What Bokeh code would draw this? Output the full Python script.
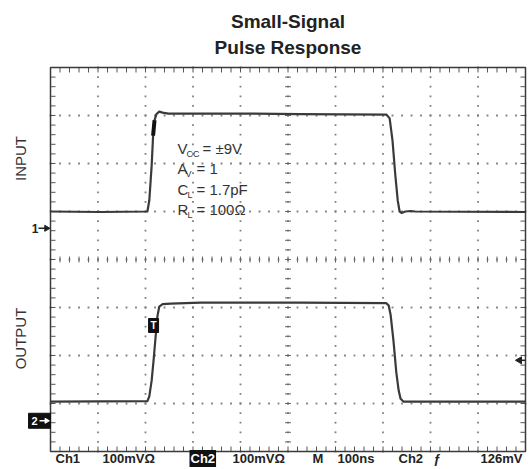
import numpy as np
from bokeh.plotting import figure
from bokeh.models import Label, Range1d
from bokeh.embed import file_html
from bokeh.resources import INLINE

# ---------------- scope settings ----------------
ns_per_div = 100          # M 100ns
mv_per_div = 100          # 100mV / div
ch1_ground_div = 0.65     # "1" ground marker (divisions from centre)
ch2_ground_div = -3.36    # "2" ground marker
trigger_mv = 126          # Ch2 trigger level
trigger_ns = 217          # trigger position "T"

# ---------------- CH1 : input ----------------
input_ns = [0, 105, 204, 208, 213, 216, 219, 223, 229, 236, 248, 420, 526, 707,
            714, 720, 726, 731, 735, 739, 747, 758, 768, 1000]
input_mv = [35, 34, 35, 58, 131, 193, 225, 238, 243, 241, 239, 239, 238, 237,
            229, 183, 110, 58, 35, 32, 35, 36, 35, 34]

# ---------------- CH2 : output ----------------
output_ns = [0, 204, 208, 213, 217, 221, 225, 229, 236, 253, 316, 526, 707, 712,
             716, 722, 728, 733, 737, 743, 758, 1000]
output_mv = [40, 41, 51, 84, 126, 172, 217, 238, 243, 244, 246, 246, 245, 240,
             221, 167, 101, 63, 46, 40, 40, 40]

title_lines = ["Small-Signal", "Pulse Response"]
cond_main = ["V", "A", "C", "R"]
cond_sub = ["CC", "V", "L", "L"]
cond_rest = ["= \u00b19V", "= 1", "= 1.7pF", "= 100\u03a9"]
status_items = ["Ch1", "100mV\u03a9", "Ch2", "100mV\u03a9", "M", "100ns", "Ch2", "\u0192", "126mV"]

# ---------------- geometry (screen layout of the graticule) ----------------
W, H = 530, 469
X_DIV, Y_DIV = 10, 8
G_LEFT, G_TOP = 50, 67          # graticule corner in page pixels
PX_X, PX_Y = 47.5, 48.0         # pixels per division


def ix(xi):  # page pixel -> ns
    return (xi - G_LEFT) / PX_X * ns_per_div


def iy(yi):  # page pixel -> divisions
    return Y_DIV / 2 - (yi - G_TOP) / PX_Y


def px_ns(d):
    return d / PX_X * ns_per_div


def px_dv(d):
    return d / PX_Y


p = figure(width=W, height=H, title=None,
           x_range=Range1d(ix(0), ix(W)), y_range=Range1d(iy(H), iy(0)),
           output_backend="svg", toolbar_location=None,
           x_axis_location=None, y_axis_location=None,
           min_border=0, min_border_left=0, min_border_right=0,
           min_border_top=0, min_border_bottom=0)
p.grid.visible = False
p.outline_line_color = None
p.background_fill_color = "white"
p.border_fill_color = "white"

top, bot = Y_DIV / 2, -Y_DIV / 2
right = X_DIV * ns_per_div
xc = right / 2

# ---------------- graticule ----------------
minor_ns = np.arange(0, right + 1, ns_per_div / 5)
minor_div = np.round(np.arange(bot, top + 0.001, 0.2), 6)
vlines = np.arange(ns_per_div, right, ns_per_div)
hlines = np.arange(bot + 1, top, 1)

dx = np.concatenate([np.repeat(vlines, len(minor_div)), np.tile(minor_ns, len(hlines))])
dy = np.concatenate([np.tile(minor_div, len(vlines)), np.repeat(hlines, len(minor_ns))])
p.scatter(dx, dy, marker="square", size=1.8, fill_color="#7f7f7f", line_color=None)

p.segment(x0=minor_ns, y0=-px_dv(3), x1=minor_ns, y1=px_dv(3), line_color="#666", line_width=1)
p.segment(x0=xc - px_ns(3), y0=minor_div, x1=xc + px_ns(3), y1=minor_div, line_color="#666", line_width=1)

p.segment(x0=minor_ns, y0=bot, x1=minor_ns, y1=bot + px_dv(5), line_color="#555", line_width=1)
p.segment(x0=minor_ns, y0=top, x1=minor_ns, y1=top - px_dv(5), line_color="#555", line_width=1)
p.segment(x0=0, y0=minor_div, x1=px_ns(5), y1=minor_div, line_color="#555", line_width=1)
p.segment(x0=right, y0=minor_div, x1=right - px_ns(5), y1=minor_div, line_color="#555", line_width=1)
p.quad(left=0, right=right, bottom=bot, top=top, fill_color=None, line_color="#3a3a3a", line_width=1.5)

# ---------------- traces ----------------
in_y = ch1_ground_div + np.array(input_mv) / mv_per_div
out_y = ch2_ground_div + np.array(output_mv) / mv_per_div
p.line(input_ns, in_y, line_color="#3a3a3a", line_width=2.2, line_join="round")
p.line(output_ns, out_y, line_color="#3a3a3a", line_width=2.2, line_join="round")
p.line(input_ns[5:7], in_y[5:7], line_color="#111", line_width=4)

FONT = "Liberation Sans"


def lab(x, y, text, size, bold=False, color="#2a2a2a", align="left", baseline="middle", **kw):
    p.add_layout(Label(x=x, y=y, text=text, text_font=FONT, text_font_size=f"{size}px",
                       text_font_style="bold" if bold else "normal", text_color=color,
                       text_align=align, text_baseline=baseline, **kw))


# title
lab(xc, iy(21), title_lines[0], 19, bold=True, color="#222", align="center")
lab(xc, iy(47), title_lines[1], 19, bold=True, color="#222", align="center")

# side labels
lab(ix(20), iy(158), "INPUT", 15, color="#333", align="center", angle=np.pi / 2)
lab(ix(20), iy(338), "OUTPUT", 15, color="#333", align="center", angle=np.pi / 2)

# conditions block
mid_y = [148, 168, 189, 209]
sub_x = [186, 185, 187, 187]
rest_x = [202, 196, 196, 196]
for m, s, r, my, sx, rx in zip(cond_main, cond_sub, cond_rest, mid_y, sub_x, rest_x):
    lab(ix(177), iy(my), m, 15, color="#333")
    lab(ix(sx), iy(my + 5), s, 9, color="#333")
    lab(ix(rx), iy(my), r, 15, color="#333")

# ---------------- ground markers ----------------
lab(ix(38), ch1_ground_div, "1", 12, bold=True, color="#222", align="right")
p.segment(x0=ix(38), y0=ch1_ground_div, x1=ix(45), y1=ch1_ground_div, line_color="#222", line_width=1.5)
p.scatter([ix(46)], [ch1_ground_div], marker="triangle", size=6, angle=-np.pi / 2,
          fill_color="#222", line_color="#222")
p.quad(left=ix(28), right=ix(50), bottom=ch2_ground_div - px_dv(7.5), top=ch2_ground_div + px_dv(7.5),
       fill_color="#111", line_color="#111")
lab(ix(31), ch2_ground_div, "2", 11, bold=True, color="white")
p.segment(x0=ix(39), y0=ch2_ground_div, x1=ix(45), y1=ch2_ground_div, line_color="white", line_width=1.5)
p.scatter([ix(46)], [ch2_ground_div], marker="triangle", size=5, angle=-np.pi / 2,
          fill_color="white", line_color="white")

# trigger position
p.quad(left=trigger_ns - px_ns(5), right=trigger_ns + px_ns(5), bottom=iy(332), top=iy(318),
       fill_color="#111", line_color="#111")
lab(trigger_ns, iy(325), "T", 10, bold=True, color="white", align="center")
# trigger level arrow at right edge
trig_y = ch2_ground_div + trigger_mv / mv_per_div
p.scatter([right - px_ns(6)], [trig_y], marker="triangle", size=7, angle=np.pi / 2,
          fill_color="#222", line_color="#222")
p.segment(x0=right - px_ns(6), y0=trig_y, x1=right, y1=trig_y, line_color="#222", line_width=1.5)

# ---------------- status line ----------------
stat_x = [55, 102, 189, 232, 312, 337, 398, 433, 522]
for i, (t, sx) in enumerate(zip(status_items, stat_x)):
    kw = {}
    color = "#222"
    if i == 2:
        kw = dict(background_fill_color="#111", padding=1)
        color = "white"
    lab(ix(sx), iy(458), t, 13, bold=True, color=color,
        align="right" if i == len(status_items) - 1 else "left", **kw)

open("out.html", "w").write(file_html(p, INLINE))
